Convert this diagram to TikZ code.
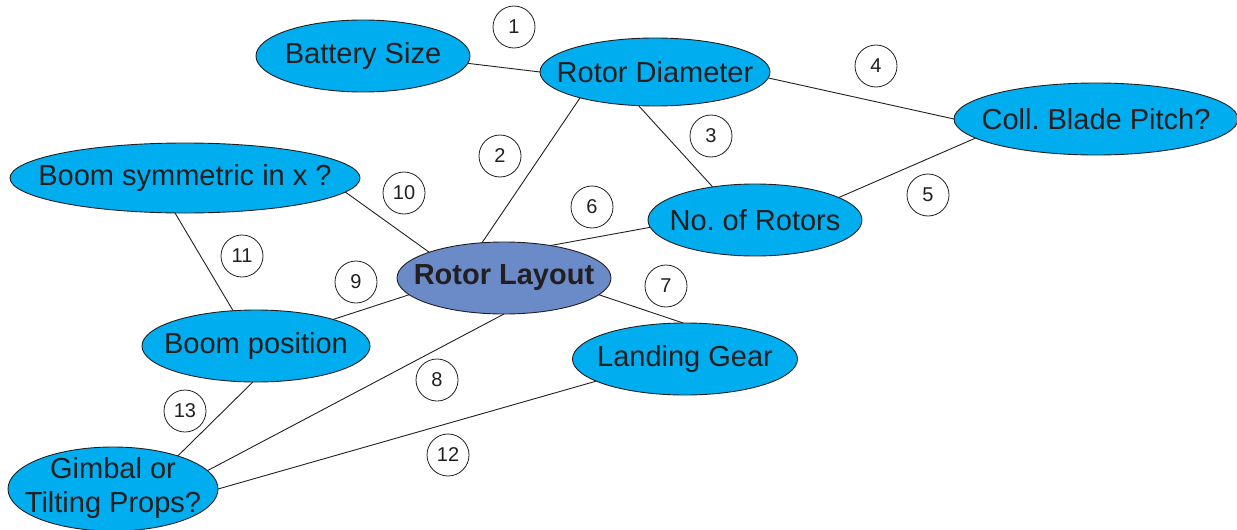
\documentclass[tikz,border=0pt]{standalone}
\usepackage{fontspec}
\setmainfont{Liberation Sans}
\usetikzlibrary{shapes.geometric}
\definecolor{topic}{HTML}{00ADEF}
\definecolor{core}{HTML}{6A8AC8}
\definecolor{ink}{HTML}{231F20}
\tikzset{
  bubble/.style={ellipse, draw=ink, line width=0.9pt, fill=topic, inner sep=0pt, outer sep=0pt,
    text=ink, font=\fontsize{29}{34}\selectfont\frenchspacing},
  corebubble/.style={bubble, fill=core, font=\fontsize{29}{34}\selectfont\bfseries},
  numtag/.style={circle, draw=ink, line width=0.8pt, fill=white, minimum size=42pt, inner sep=0pt,
    text=ink, font=\fontsize{20}{24}\selectfont},
  link/.style={draw=ink, line width=0.9pt}
}
\begin{document}
\begin{tikzpicture}[x=1pt,y=-1pt]
\useasboundingbox (0,0) rectangle (1237,530);
% ellipses
\node[bubble, minimum width=214pt, minimum height=72pt] (bat) at (363,56) {\makebox[0pt]{Battery Size}};
\node[bubble, minimum width=230pt, minimum height=68pt] (rd) at (655,72) {\makebox[0pt]{Rotor Diameter}};
\node[bubble, minimum width=284pt, minimum height=72pt] (cbp) at (1096,119) {\makebox[0pt]{Coll. Blade Pitch?}};
\node[bubble, minimum width=350pt, minimum height=70pt] (bsx) at (185,178) {\makebox[0pt]{Boom symmetric in x ?}};
\node[bubble, minimum width=214pt, minimum height=72pt] (nor) at (755,220) {\makebox[0pt]{No. of Rotors}};
\node[corebubble, minimum width=214pt, minimum height=72pt] (rl) at (504,278) {\makebox[0pt]{Rotor Layout}};
\node[bubble, minimum width=228pt, minimum height=72pt] (bp) at (256,346) {\makebox[0pt]{Boom position}};
\node[bubble, minimum width=225pt, minimum height=72pt] (lg) at (685,359) {\makebox[0pt]{Landing Gear}};
\node[bubble, minimum width=210pt, minimum height=84pt] (gim) at (113,489) {\makebox[0pt]{\smash{\raisebox{-6pt}{\begin{tabular}[c]{@{}c@{}}Gimbal or\\Tilting Props?\end{tabular}}}}};
% connectors
\draw[link] (bat.-4) -- (rd.180);
\draw[link] (rd.-3) -- (cbp.180);
\draw[link] (rd.199) -- (rl.122);
\draw[link] (rd.244) -- (nor.142);
\draw[link] (nor.15) -- (cbp.189);
\draw[link] (rl.35) -- (nor.184);
\draw[link] (bsx.-5) -- (rl.161);
\draw[link] (bsx.254) -- (bp.123);
\draw[link] (rl.190) -- (bp.19);
\draw[link] (rl.-10) -- (lg.93);
\draw[link] (rl.270) -- (gim.11);
\draw[link] (bp.265) -- (gim.27);
\draw[link] (lg.194) -- (gim.0);
% number tags
\node[numtag] (n1) at (514,27) {1};
\node[numtag] (n2) at (500,156) {2};
\node[numtag] (n3) at (711,136) {3};
\node[numtag] (n4) at (876,66) {4};
\node[numtag] (n5) at (928,195) {5};
\node[numtag] (n6) at (592,207) {6};
\node[numtag] (n7) at (666,286) {7};
\node[numtag] (n8) at (437,380) {8};
\node[numtag] (n9) at (356,282) {9};
\node[numtag] (n10) at (404,193) {10};
\node[numtag] (n11) at (242,256) {11};
\node[numtag] (n12) at (448,455) {12};
\node[numtag] (n13) at (185,411) {13};
\end{tikzpicture}
\end{document}
